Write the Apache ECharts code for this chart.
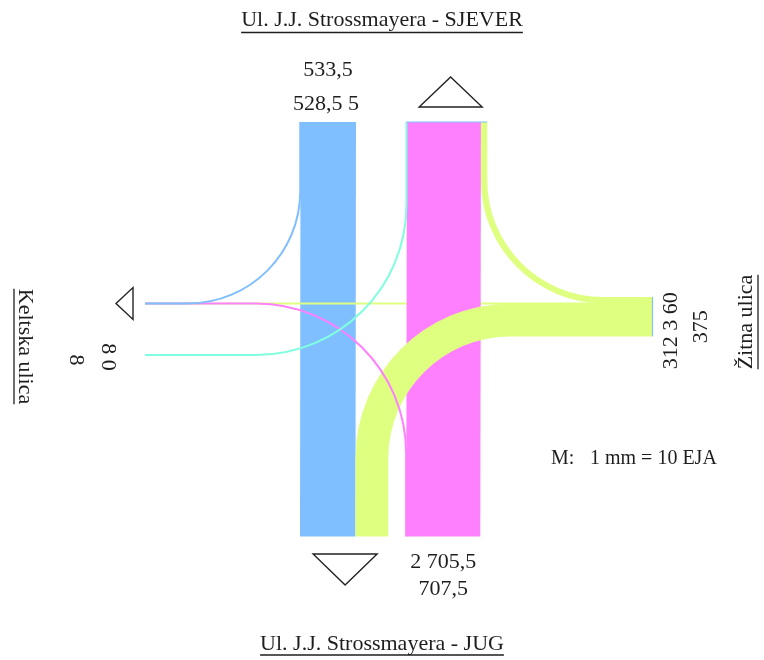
<!DOCTYPE html>
<html>
<head>
<meta charset="utf-8">
<title>Prometno opterećenje raskrižja</title>
<script src="https://cdn.jsdelivr.net/npm/echarts@6/dist/echarts.min.js"></script>
<style>
html,body{margin:0;padding:0;background:#ffffff;}
#chart{width:764px;height:660px;}
</style>
</head>
<body>
<div id="chart"></div>
<script>
// ---------------- DATA (EJA) ----------------
const approachNames = ['Ul. J.J. Strossmayera - SJEVER', 'Ul. J.J. Strossmayera - JUG', 'Keltska ulica', 'Žitna ulica'];
const northValues = [528.5, 5];       // SJEVER -> JUG, SJEVER -> Keltska
const southValues = [2, 705.5];       // JUG -> Keltska, JUG -> SJEVER
const westValues  = [8, 0];           // Keltska -> SJEVER, Keltska -> Žitna
const eastValues  = [312, 3, 60];     // Žitna -> JUG, Žitna -> Keltska, Žitna -> SJEVER
const scaleText   = ['M:', '1 mm = 10 EJA'];

// ---------------- LAYOUT (in EJA units of the drawing) ----------------
const PX_PER_EJA = 0.105;
const L = {
  laneA: 2857,   // left edge: SJEVER entry / JUG exit
  laneB: 3867,   // left edge: JUG entry / SJEVER exit
  top: 1162, bottom: 5110,
  eastTop: 2829, eastEnd: 6214,
  westEnd: 1381, westIn: 3381,
  rNW: 1070, rSW: 1430, rWN: 1430, rES: 1320, rEN: 1140
};
const COLORS = { N: '#80bfff', S: '#ff80ff', W: '#80ffdf', E: '#dfff80' };
const MIN_W = 2;
const TXT = '#1e1e1e';
const FONT = s => s + 'px "Liberation Serif","Times New Roman",serif';

const [nS, nW] = northValues;
const [sW, sN] = southValues;
const [wN, wE] = westValues;
const [eS, eW, eN] = eastValues;
const sum = a => a.reduce((p, c) => p + c, 0);
const fmt = v => String(v).replace('.', ',');
const wExitY = L.eastTop + eN + eW / 2;
const yES = L.eastTop + eN + eW + eS / 2, xES = L.laneA + nS + eS / 2;
const yEN = L.eastTop + eN / 2, xEN = L.laneB + wN + sN + eN / 2;

// draw order matters (later = on top)
const flows = [
  { from: 'N', value: nS, kind: 'band', pts: [[L.laneA + nW, L.top], [L.laneA + nW + nS, L.top], [L.laneA + nS, L.bottom], [L.laneA, L.bottom]] },
  { from: 'E', value: eW, kind: 'line', pts: [[L.eastEnd, wExitY], [L.westEnd, wExitY]] },
  { from: 'S', value: sN, kind: 'band', pts: [[L.laneB + sW, L.bottom], [L.laneB + sW + sN, L.bottom], [L.laneB + wN + sN, L.top], [L.laneB + wN, L.top]] },
  { from: 'E', value: eS, kind: 'turn', a: [L.eastEnd, yES], c: [xES, yES], b: [xES, L.bottom], r: L.rES },
  { from: 'E', value: eN, kind: 'turn', a: [L.eastEnd, yEN], c: [xEN, yEN], b: [xEN, L.top], r: L.rEN },
  { from: 'S', value: sW, kind: 'turn', a: [L.laneB + sW / 2, L.bottom], c: [L.laneB + sW / 2, wExitY], b: [L.westEnd, wExitY], r: L.rSW },
  { from: 'W', value: wN, kind: 'turn', a: [L.westEnd, L.westIn], c: [L.laneB + wN / 2, L.westIn], b: [L.laneB + wN / 2, L.top], r: L.rWN },
  { from: 'W', value: wE, kind: 'none' },
  { from: 'N', value: nW, kind: 'turn', a: [L.laneA + nW / 2, L.top], c: [L.laneA + nW / 2, wExitY], b: [L.westEnd, wExitY], r: L.rNW }
];

const mctx = document.createElement('canvas').getContext('2d');
function textWidth(t, f) { mctx.font = f; return mctx.measureText(t).width; }

function renderFlow(params, api) {
  const f = flows[api.value(2)];
  if (!f.value || f.kind === 'none') return null;
  const color = COLORS[f.from];
  const w = Math.max(api.size([f.value, 0])[0], MIN_W);
  if (f.kind === 'band') {
    return { type: 'polygon', shape: { points: f.pts.map(p => api.coord(p)) }, style: { fill: color } };
  }
  if (f.kind === 'line') {
    const a = api.coord(f.pts[0]), b = api.coord(f.pts[1]);
    return { type: 'line', shape: { x1: a[0], y1: a[1], x2: b[0], y2: b[1] }, style: { stroke: color, lineWidth: w, lineCap: 'butt' } };
  }
  const A = api.coord(f.a), C = api.coord(f.c), B = api.coord(f.b);
  const r = api.size([f.r, 0])[0];
  const unit = (p, q) => { const dx = q[0] - p[0], dy = q[1] - p[1], l = Math.hypot(dx, dy) || 1; return [dx / l, dy / l]; };
  const d1 = unit(A, C), d2 = unit(C, B);
  const P1 = [C[0] - d1[0] * r, C[1] - d1[1] * r];
  const P2 = [C[0] + d2[0] * r, C[1] + d2[1] * r];
  const k = 0.5523 * r;
  const c1 = [P1[0] + d1[0] * k, P1[1] + d1[1] * k];
  const c2 = [P2[0] - d2[0] * k, P2[1] - d2[1] * k];
  const s = p => p[0].toFixed(2) + ' ' + p[1].toFixed(2);
  const d = 'M' + s(A) + ' L' + s(P1) + ' C' + s(c1) + ' ' + s(c2) + ' ' + s(P2) + ' L' + s(B);
  return { type: 'path', shape: { pathData: d }, style: { fill: 'none', stroke: color, lineWidth: w, lineCap: 'butt', lineJoin: 'round' } };
}

function renderAnnotations(params, api) {
  const kids = [];
  function text(str, x, y, opt) {
    opt = opt || {};
    const f = FONT(opt.size || 22);
    const children = [{ type: 'text', style: { text: str, x: 0, y: 0, fill: TXT, font: f, textAlign: opt.align || 'center', textVerticalAlign: 'middle' } }];
    if (opt.ul) {
      const w = textWidth(str, f);
      children.push({ type: 'line', shape: { x1: -w / 2, y1: opt.ul, x2: w / 2, y2: opt.ul }, style: { stroke: TXT, lineWidth: 1.3 } });
    }
    kids.push({ type: 'group', x: x, y: y, rotation: opt.rot || 0, children: children });
  }
  function tri(points) {
    kids.push({ type: 'polygon', shape: { points: points }, style: { fill: 'none', stroke: '#222', lineWidth: 1.4 } });
  }
  const cx = api.getWidth() / 2, H = api.getHeight(), W = api.getWidth();
  // street names
  text(approachNames[0], cx, 20, { ul: 12.5 });
  text(approachNames[1], cx, H - 15.5, { ul: 10.5 });
  text(approachNames[2], 24.5, 346.5, { rot: -Math.PI / 2, ul: 10.5 });
  text(approachNames[3], W - 18, 322, { rot: Math.PI / 2, ul: 12 });

  // north approach
  const nC = api.coord([L.laneA + (nW + nS) / 2, L.top]);
  text(fmt(sum(northValues)), nC[0], nC[1] - 52);
  text(northValues.map(fmt).join(' '), nC[0] - 2, nC[1] - 18);
  // south approach
  const sC = api.coord([L.laneB + (sW + sN) / 2, L.bottom]);
  text(southValues.map(fmt).join(' '), sC[0], sC[1] + 26);
  text(fmt(sum(southValues)), sC[0], sC[1] + 53);
  // west approach
  const wC = api.coord([L.westEnd, L.westIn]);
  text(westValues.map(fmt).join(' '), wC[0] - 37.5, wC[1] + 2, { rot: -Math.PI / 2 });
  text(fmt(sum(westValues)), wC[0] - 69, wC[1] + 5, { rot: -Math.PI / 2 });
  // east approach
  const eC = api.coord([L.eastEnd, L.eastTop + sum(eastValues) / 2]);
  text(eastValues.map(fmt).join(' '), eC[0] + 19, eC[1] + 14, { rot: Math.PI / 2 });
  text(fmt(sum(eastValues)), eC[0] + 49, eC[1] + 10, { rot: Math.PI / 2 });

  // exit triangles
  const nx = api.coord([L.laneB + (wN + sN + eN) / 2, L.top]);
  tri([[nx[0] + 4, nx[1] - 45], [nx[0] + 35.5, nx[1] - 15], [nx[0] - 27.5, nx[1] - 15]]);
  const sx = api.coord([L.laneA + (nS + eS) / 2, L.bottom]);
  tri([[sx[0] + 1, sx[1] + 48.5], [sx[0] + 33, sx[1] + 17.5], [sx[0] - 31, sx[1] + 17.5]]);
  const wx = api.coord([L.westEnd, wExitY]);
  tri([[wx[0] - 29, wx[1]], [wx[0] - 12, wx[1] - 16], [wx[0] - 12, wx[1] + 16]]);

  // lane end caps
  const t0 = api.coord([L.laneB, L.top]), t1 = api.coord([L.laneB + wN + sN + eN, L.top]);
  kids.push({ type: 'line', shape: { x1: t0[0], y1: t0[1], x2: t1[0], y2: t1[1] }, style: { stroke: COLORS.N, lineWidth: 1.2 } });
  const e0 = api.coord([L.eastEnd, L.eastTop]), e1 = api.coord([L.eastEnd, L.eastTop + sum(eastValues)]);
  kids.push({ type: 'line', shape: { x1: e0[0], y1: e0[1], x2: e1[0], y2: e1[1] }, style: { stroke: COLORS.N, lineWidth: 1.2 } });

  // scale note
  text(scaleText[0], 551, 458.5, { size: 20, align: 'left' });
  text(scaleText[1], 590, 458.5, { size: 20, align: 'left' });
  return { type: 'group', children: kids };
}

const chart = echarts.init(document.getElementById('chart'), null, { renderer: 'canvas' });
chart.setOption({
  animation: false,
  backgroundColor: '#ffffff',
  grid: { left: 0, right: 0, top: 0, bottom: 0 },
  xAxis: { type: 'value', min: 0, max: 764 / PX_PER_EJA, show: false },
  yAxis: { type: 'value', min: 0, max: 660 / PX_PER_EJA, inverse: true, show: false },
  series: [
    { type: 'custom', name: 'tokovi', coordinateSystem: 'cartesian2d', silent: true, clip: false,
      encode: { x: 0, y: 1 }, data: flows.map((f, i) => [0, 0, i]), renderItem: renderFlow },
    { type: 'custom', name: 'oznake', coordinateSystem: 'cartesian2d', silent: true, clip: false, z: 3,
      encode: { x: 0, y: 1 }, data: [[0, 0, 0]], renderItem: renderAnnotations }
  ]
});
</script>
</body>
</html>
